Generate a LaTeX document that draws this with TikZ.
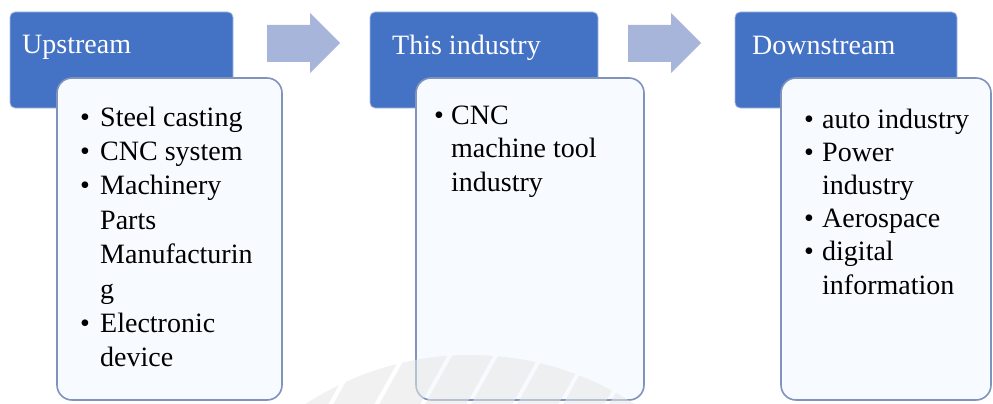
\documentclass[tikz,border=0pt]{standalone}
\usepackage{fontspec}
\setmainfont{Liberation Serif}
\definecolor{hdrblue}{HTML}{4472C4}
\definecolor{hdredge}{HTML}{A9BCE0}
\definecolor{cardedge}{HTML}{7F93BD}
\definecolor{cardfill}{HTML}{F7FAFE}
\definecolor{arrowfill}{HTML}{A8B5DA}
\definecolor{markgray}{HTML}{E6E6E6}
\newcommand{\bul}{\makebox[20pt][l]{\textbullet}}
\begin{document}
\begin{tikzpicture}[x=1pt,y=-1pt,
  header/.style={fill=hdrblue, draw=hdredge, line width=0.8pt, rounded corners=5pt},
  card/.style={fill=cardfill, draw=cardedge, line width=1.6pt, rounded corners=15pt},
  flowarrow/.style={fill=arrowfill, draw=none},
  title/.style={text=white, anchor=base west, inner sep=0pt, font=\fontsize{28}{33.4}\selectfont},
  body/.style={text=black, anchor=base west, inner sep=0pt}]
\useasboundingbox (0,0) rectangle (993,404);

% column headers
\draw[header] (10,12) rectangle (233,108);
\draw[header] (370,12) rectangle (598,108);
\draw[header] (735,12) rectangle (957,108);

% content cards
\draw[card] (57,78) rectangle (282,400);
\draw[card] (416,78) rectangle (644,400);
\draw[card] (781,78) rectangle (991,400);

% faint emblem along the bottom: a ring cap cut into slanted blades
\begin{scope}[opacity=0.55]
  \foreach \a in {308.5,354.5,400.5,446.5,492.5,538.5,584.5,630.5} {
    \begin{scope}
      \clip (\a-30,420) -- (\a+20,330) -- (\a+61,330) -- (\a+11,420) -- cycle;
      \fill[markgray, even odd rule] (470,655) circle (300) (470,655) circle (230);
    \end{scope}
  }
\end{scope}

% flow arrows between the stages
\fill[flowarrow] (267,25) -- (310,25) -- (310,13) -- (340,43) -- (310,73) -- (310,62) -- (267,62) -- cycle;
\fill[flowarrow] (628,25) -- (671,25) -- (671,13) -- (701,43) -- (671,73) -- (671,62) -- (628,62) -- cycle;

% header titles
\node[title] (t1) at (22,54) {Upstream};
\node[title] (t2) at (392,55) {This industry};
\node[title] (t3) at (752,55) {Downstream};

% card contents
\node[body, font=\fontsize{28}{34.4}\selectfont] (b1) at (80,126) {\begin{tabular}[t]{@{}l@{}l@{}}
\bul & Steel casting\\
\bul & CNC system\\
\bul & Machinery\\
 & Parts\\
 & Manufacturin\\
 & g\\
\bul & Electronic\\
 & device
\end{tabular}};
\node[body, font=\fontsize{28}{33.6}\selectfont] (b2) at (434,124) {\begin{tabular}[t]{@{}l@{}l@{}}
\makebox[17pt][l]{\textbullet} & CNC\\
 & machine tool\\
 & industry
\end{tabular}};
\node[body, font=\fontsize{28}{33.2}\selectfont] (b3) at (804,128) {\begin{tabular}[t]{@{}l@{}l@{}}
\makebox[18pt][l]{\textbullet} & auto industry\\
\textbullet & Power\\
 & industry\\
\textbullet & Aerospace\\
\textbullet & digital\\
 & information
\end{tabular}};
\end{tikzpicture}
\end{document}
